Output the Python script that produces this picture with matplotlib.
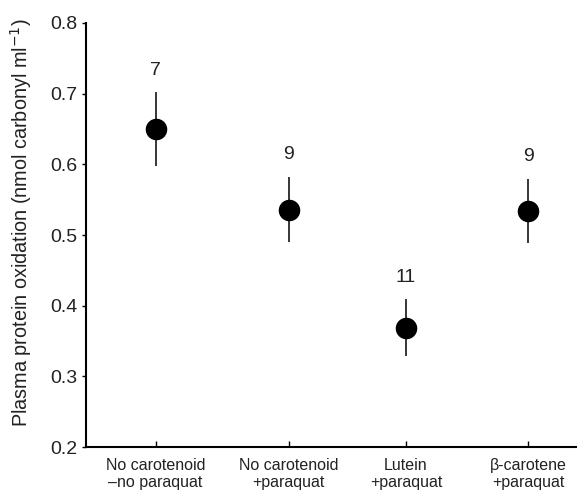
import matplotlib
matplotlib.use("Agg")
import matplotlib.pyplot as plt

categories = ["No carotenoid\n\u2013no paraquat", "No carotenoid\n+paraquat",
              "Lutein\n+paraquat", "\u03b2-carotene\n+paraquat"]
means = [0.650, 0.536, 0.369, 0.534]
errors = [0.052, 0.046, 0.040, 0.045]
sample_sizes = [7, 9, 11, 9]
yticks = [0.2, 0.3, 0.4, 0.5, 0.6, 0.7, 0.8]

# layout (horizontal placement of categories)
xpos = [0.0, 1.09, 2.05, 3.05]

plt.rcParams['font.family'] = ['Liberation Sans', 'DejaVu Sans']

fig = plt.figure(figsize=(5.77, 4.91), dpi=100)
ax = fig.add_axes([86/577, 1 - 447/491, (577 - 86)/577, (447 - 23)/491])

ax.errorbar(xpos, means, yerr=errors, fmt='o', color='black', ms=14.5,
            elinewidth=1.1, capsize=0)
for x, m, e, n in zip(xpos, means, errors, sample_sizes):
    ax.annotate(str(n), (x, m + e), xytext=(0, 16), textcoords='offset points',
                ha='center', va='center', fontsize=14, color='#222222')

ax.set_ylim(0.2, 0.8)
ax.set_xlim(-0.57, 3.45)
ax.set_yticks(yticks)
ax.set_yticklabels([f"{t:.1f}" for t in yticks], fontsize=14, color='#222222')
ax.set_xticks(xpos)
ax.set_xticklabels(categories, fontsize=11.5, color='#222222', linespacing=1.12)
ax.tick_params(axis='x', direction='in', length=4, width=1, pad=8)
ax.tick_params(axis='y', direction='out', length=3, width=1, pad=3)
ax.spines['top'].set_visible(False)
ax.spines['right'].set_visible(False)
ax.spines['left'].set_linewidth(1.5)
ax.spines['bottom'].set_linewidth(1.5)
ax.set_ylabel("Plasma protein oxidation (nmol carbonyl ml$^{-1}$)", fontsize=14.3,
              color='#222222')
ax.yaxis.set_label_coords(-0.105, 0.53)

fig.savefig("out.png", dpi=100)
